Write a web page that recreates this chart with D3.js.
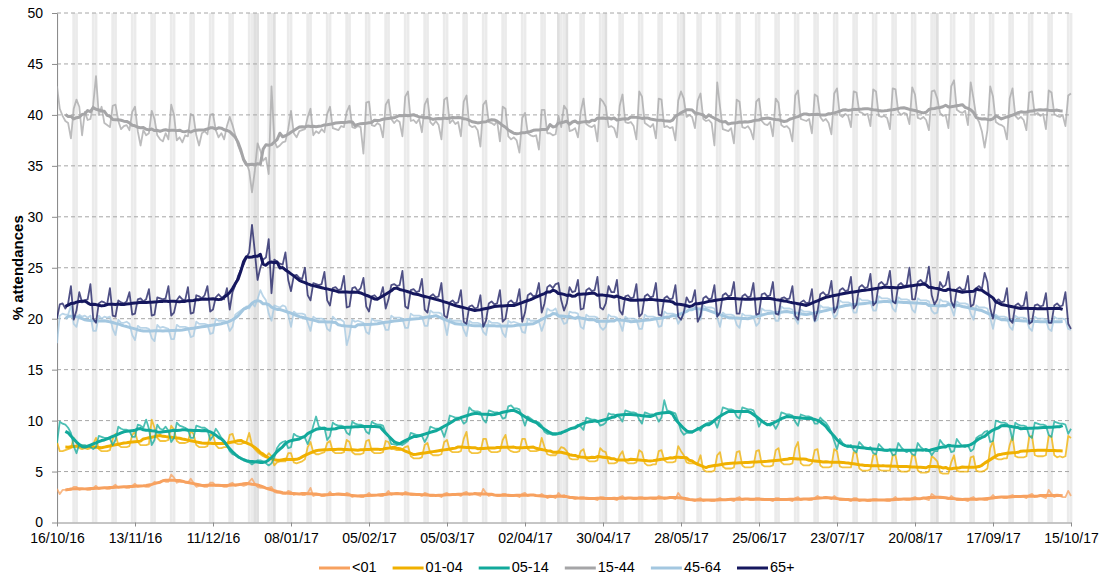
<!DOCTYPE html>
<html>
<head>
<meta charset="utf-8">
<script src="https://cdn.jsdelivr.net/npm/d3@7"></script>
<style>
  body { margin: 0; background: #fff; }
  svg { font-family: Arial, "Liberation Sans", sans-serif; }
</style>
</head>
<body>
<svg id="chart" width="1117" height="576"></svg>
<script>
// daily share of A&E attendances by age band, 16/10/16 - 15/10/17
// one row per week (Sun..Sat), last row is the final Sunday
const startDate = "2016-10-16";
const ageGroups = ["<01", "01-04", "05-14", "15-44", "45-64", "65+"];
const lineColours = ["#F7A15F", "#F0B000", "#12A99B", "#A5A5A7", "#A3C7E0", "#15175E"];
const tickDates = ["2016-10-16", "2016-11-13", "2016-12-11", "2017-01-08", "2017-02-05", "2017-03-05", "2017-04-02",
                   "2017-04-30", "2017-05-28", "2017-06-25", "2017-07-23", "2017-08-20", "2017-09-17", "2017-10-15"];
const bankHolidays = ["2016-12-26", "2016-12-27", "2017-01-02", "2017-04-14", "2017-04-17", "2017-05-01", "2017-05-29", "2017-08-28"];
const yTicks = [0, 5, 10, 15, 20, 25, 30, 35, 40, 45, 50];

const under01 = [
  [3.3,2.8,3.2,3.2,3.2,3.2,3.5],[3.5,3.2,3.3,3.3,3.2,3.2,3.4],[3.6,3.3,3.4,3.4,3.3,3.3,3.5],[3.7,3.4,3.5,3.5,3.4,3.4,3.6],
  [3.8,3.5,3.6,3.6,3.5,3.5,3.7],[4.0,3.9,4.0,4.1,4.0,4.0,4.7],[4.4,3.9,4.0,4.0,3.9,3.9,4.3],[3.9,3.5,3.6,3.6,3.5,3.5,3.9],
  [3.9,3.6,3.6,3.6,3.5,3.5,3.8],[3.9,3.6,3.7,3.7,3.6,3.7,4.0],[4.3,3.8,3.5,3.4,3.4,3.4,3.4],[3.5,3.0,2.9,2.9,2.8,2.8,3.1],
  [3.0,2.7,2.8,2.8,2.7,2.7,2.9],[3.4,2.6,2.7,2.7,2.6,2.6,2.7],[3.0,2.7,2.8,2.8,2.7,2.7,2.9],[2.8,2.5,2.6,2.6,2.5,2.5,2.7],
  [2.9,2.6,2.7,2.7,2.6,2.6,2.8],[3.1,2.7,2.8,2.9,2.8,2.7,3.0],[2.9,2.7,2.7,2.8,2.7,2.6,2.9],[2.8,2.6,2.6,2.7,2.6,2.5,2.8],
  [2.9,2.7,2.7,2.8,2.7,2.6,2.9],[3.0,2.7,2.8,2.8,2.7,2.6,3.3],[2.9,2.6,2.7,2.7,2.6,2.6,2.8],[2.8,2.6,2.6,2.7,2.6,2.5,2.8],
  [2.9,2.6,2.7,2.7,2.6,2.6,2.8],[2.6,2.4,2.5,2.5,2.4,2.9,2.6],[2.7,2.5,2.4,2.4,2.3,2.4,2.5],[2.5,2.3,2.3,2.4,2.3,2.2,2.5],
  [2.5,2.4,2.3,2.3,2.3,2.2,2.5],[2.6,2.3,2.4,2.4,2.3,2.3,2.5],[2.5,2.3,2.4,2.4,2.3,2.3,2.6],[2.5,2.3,2.4,2.4,2.4,2.3,2.9],
  [2.5,2.3,2.2,2.2,2.2,2.1,2.3],[2.4,2.1,2.2,2.2,2.1,2.1,2.3],[2.4,2.2,2.2,2.3,2.2,2.1,2.4],[2.5,2.2,2.3,2.3,2.2,2.2,2.4],
  [2.4,2.2,2.2,2.3,2.2,2.1,2.4],[2.4,2.2,2.2,2.3,2.2,2.1,2.4],[2.5,2.2,2.3,2.3,2.2,2.2,2.4],[2.6,2.4,2.4,2.5,2.4,2.3,2.6],
  [2.4,2.2,2.2,2.3,2.2,2.1,2.4],[2.4,2.1,2.2,2.2,2.1,2.1,2.3],[2.3,2.2,2.2,2.2,2.1,2.1,2.3],[2.5,2.2,2.3,2.3,2.2,2.2,2.4],
  [2.5,2.3,2.3,2.4,2.3,2.2,2.8],[2.6,2.5,2.4,2.4,2.4,2.3,2.6],[2.4,2.2,2.2,2.3,2.2,2.1,2.4],[2.5,2.2,2.3,2.3,2.2,2.2,2.4],
  [2.7,2.4,2.5,2.5,2.4,2.4,2.6],[2.7,2.5,2.5,2.6,2.5,2.4,2.7],[2.8,2.5,2.6,2.6,2.5,2.4,3.2],[2.8,2.5,2.6,2.6,2.5,2.5,3.1],
  [2.6]
].flat();

const age01to04 = [
  [7.9,7.0,7.0,7.1,7.2,7.3,8.3],[7.8,7.3,7.2,7.3,7.2,7.3,7.7],[8.3,7.2,7.0,7.0,7.0,7.1,8.2],[8.7,7.6,7.4,7.4,7.4,7.5,8.6],
  [8.9,7.9,7.6,7.6,7.6,7.7,10.1],[9.3,8.3,8.0,8.0,8.0,8.1,9.5],[9.1,8.0,7.8,7.8,7.8,7.9,9.0],[8.7,7.6,7.4,7.4,7.4,7.5,8.6],
  [8.6,7.6,7.3,7.3,7.4,7.4,8.6],[8.7,7.8,7.7,7.7,7.8,7.9,8.8],[7.6,7.2,6.9,6.7,6.5,6.4,6.8],[6.5,5.6,5.9,6.0,6.0,6.0,6.8],
  [6.8,5.9,5.8,5.9,6.0,6.2,7.4],[7.9,6.9,6.7,6.7,6.8,6.9,7.8],[8.0,7.0,6.8,6.8,6.8,6.9,8.1],[7.9,6.9,6.7,6.7,6.7,6.8,8.0],
  [8.1,7.0,6.8,6.8,6.8,6.9,8.0],[7.9,7.2,7.2,7.1,7.1,7.2,7.4],[7.5,6.5,6.3,6.3,6.3,6.4,7.6],[7.8,6.8,6.6,6.6,6.6,6.7,7.9],
  [8.1,7.1,6.9,6.9,6.9,7.0,8.2],[8.9,7.0,6.8,6.8,6.8,6.9,8.2],[8.2,7.1,6.9,6.9,6.9,7.0,8.1],[8.6,7.2,7.0,6.9,6.9,7.0,8.2],
  [8.2,7.2,7.0,7.0,7.0,7.1,8.3],[7.4,6.7,6.6,6.6,6.6,7.0,7.4],[7.3,7.0,6.3,6.2,6.2,6.2,7.0],[7.2,6.2,6.0,6.0,6.0,6.1,7.3],
  [7.0,6.9,5.8,5.8,5.8,5.9,6.6],[7.0,6.0,5.8,5.8,5.8,5.9,7.1],[6.9,5.8,5.6,5.6,5.7,5.7,7.0],[7.1,6.1,5.9,5.9,5.9,6.0,7.5],
  [7.0,6.6,5.9,5.8,5.8,5.8,5.8],[6.6,5.2,5.0,5.0,5.0,5.1,6.6],[6.9,5.5,5.3,5.3,5.3,5.4,6.9],[7.0,5.6,5.4,5.4,5.4,5.5,7.0],
  [7.1,5.7,5.5,5.5,5.5,5.6,7.1],[7.3,5.9,5.7,5.7,5.7,5.8,7.3],[7.9,5.8,5.6,5.6,5.6,5.8,7.1],[7.2,5.6,5.4,5.4,5.4,5.5,7.2],
  [7.0,5.5,5.4,5.4,5.4,5.4,6.9],[6.8,5.3,5.1,5.1,5.1,5.2,6.6],[6.7,5.2,5.1,5.1,5.1,5.1,6.6],[6.6,5.2,5.0,5.0,5.0,5.1,6.6],
  [6.5,5.1,4.9,4.9,4.9,5.0,6.5],[6.3,6.0,4.9,4.8,4.8,4.8,5.9],[6.6,5.1,5.0,5.0,5.0,5.0,6.4],[6.5,5.1,5.0,5.0,5.1,5.3,7.3],
  [8.0,6.3,6.2,6.2,6.3,6.3,7.6],[8.4,6.5,6.4,6.4,6.4,6.5,8.4],[8.5,6.6,6.5,6.5,6.5,6.6,8.5],[8.4,6.6,6.4,6.5,6.4,6.5,8.5],
  [8.3]
].flat();

const age05to14 = [
  [7.8,9.9,9.7,9.6,9.3,8.8,7.5],[6.8,7.7,7.6,7.6,7.5,7.4,7.2],[7.4,8.5,8.4,8.3,8.3,8.2,7.6],[8.1,9.4,9.2,9.1,9.1,9.0,8.4],
  [8.4,9.6,9.5,9.3,10.1,9.2,7.6],[8.1,9.6,9.2,9.1,9.4,9.0,7.9],[8.3,9.8,9.5,9.4,9.3,9.1,8.3],[8.3,9.5,9.4,9.3,9.3,9.1,8.1],
  [8.5,9.2,8.8,8.3,8.0,7.6,7.0],[6.7,6.6,6.4,6.3,6.2,6.0,5.9],[5.7,5.9,6.1,6.1,6.0,5.8,5.6],[5.8,6.4,7.3,7.7,7.9,8.0,7.3],
  [7.4,8.7,8.5,8.4,8.4,8.3,7.7],[8.4,9.5,10.4,9.4,9.3,9.3,8.1],[8.5,9.8,9.6,9.5,9.5,9.4,8.8],[8.6,9.9,9.7,9.6,9.6,9.5,8.9],
  [8.7,9.9,9.7,9.6,9.6,9.5,8.8],[8.5,7.7,7.7,7.6,7.7,7.6,7.8],[8.0,8.8,8.7,8.6,8.6,8.5,7.9],[8.4,9.4,9.3,9.2,9.2,9.1,8.4],
  [9.3,10.5,10.4,10.3,10.3,10.2,9.7],[9.9,11.3,11.0,10.9,10.9,10.8,10.1],[9.8,11.0,10.9,10.8,10.8,10.7,10.2],[10.3,11.4,11.5,11.2,11.2,11.1,10.3],
  [9.5,10.4,10.2,10.0,9.9,9.8,9.5],[8.9,8.7,8.7,8.6,8.6,8.7,8.7],[8.9,9.0,9.2,9.3,9.4,9.6,9.4],[9.1,10.3,10.2,10.1,10.1,10.0,9.5],
  [9.6,9.8,10.7,10.6,10.6,10.5,10.3],[9.9,11.0,10.9,10.8,10.8,10.7,10.1],[9.7,10.8,10.7,10.6,10.6,10.5,9.9],[10.3,12.0,11.0,10.9,10.8,10.7,9.9],
  [9.0,8.6,8.8,8.8,8.8,9.0,9.3],[9.0,9.5,9.7,9.8,9.9,10.0,9.3],[10.2,11.3,11.2,11.1,11.1,11.0,10.4],[10.2,11.3,11.2,11.1,11.1,11.0,10.4],
  [9.4,10.0,9.8,9.6,9.5,9.7,9.2],[9.7,10.8,10.7,10.6,10.6,10.5,9.9],[9.5,10.6,10.5,10.4,10.4,10.3,9.7],[9.7,10.3,10.0,9.8,9.4,8.8,8.0],
  [7.2,8.2,7.8,7.5,7.4,7.6,7.1],[6.9,7.9,7.6,7.3,7.2,7.4,6.8],[6.7,7.7,7.4,7.1,7.0,7.2,6.6],[6.7,7.8,7.4,7.1,6.9,7.1,6.7],
  [6.6,7.8,7.4,7.2,7.0,7.1,6.6],[7.0,7.0,8.1,7.7,7.5,7.6,6.9],[7.0,8.2,7.8,7.5,7.4,7.6,7.0],[7.2,8.3,8.5,8.6,8.9,9.0,7.9],
  [8.0,10.0,9.9,9.8,9.8,9.7,9.3],[8.1,9.8,9.6,9.5,9.5,9.4,8.5],[8.3,9.8,9.7,9.6,9.6,9.5,8.6],[8.4,9.9,9.8,9.7,9.7,9.6,8.7],
  [9.2]
].flat();

const age15to44 = [
  [42.8,40.6,39.9,39.4,39.2,37.7,40.6],[41.5,40.8,38.0,40.3,39.5,39.6,41.0],[43.8,40.0,40.8,39.2,39.0,38.8,40.9],[41.0,39.4,38.6,38.9,39.0,38.5,40.3],
  [40.8,38.4,37.0,38.5,38.0,38.2,40.4],[39.6,38.0,37.6,37.4,38.2,37.6,41.0],[40.0,37.5,37.8,37.3,38.0,37.9,40.1],[39.9,38.0,37.0,38.2,38.4,38.1,40.0],
  [40.1,38.5,37.8,38.2,37.6,38.9,39.8],[39.0,38.0,37.0,36.3,35.7,35.3,34.5],[32.4,34.5,37.2,36.5,35.5,35.8,34.2],[42.8,37.5,36.8,37.0,37.3,37.4,38.6],
  [40.4,38.2,37.8,38.4,38.5,38.6,39.8],[40.6,38.0,38.4,38.2,38.6,38.3,40.1],[40.8,38.7,38.6,38.5,38.9,38.8,40.3],[40.9,38.8,38.7,38.9,38.8,36.2,41.2],
  [41.3,39.0,38.9,39.2,39.0,37.8,41.0],[41.5,39.6,39.2,39.5,39.3,37.9,41.8],[42.3,39.4,39.5,39.2,39.6,38.3,41.0],[41.6,39.3,39.0,39.4,39.0,37.6,41.5],
  [41.7,39.2,39.5,39.1,39.3,37.9,41.3],[41.9,39.0,38.8,38.9,38.5,36.9,41.0],[41.4,39.3,39.2,39.0,39.4,37.4,40.8],[40.6,37.9,37.6,37.8,37.5,36.3,39.7],
  [40.2,38.2,38.0,37.9,38.0,36.6,40.5],[40.5,38.2,38.2,38.0,38.1,39.9,38.8],[40.9,40.5,38.4,38.5,38.7,37.8,40.3],[41.6,39.1,38.9,38.8,39.0,37.4,41.6],
  [41.3,40.8,38.8,38.9,38.7,37.8,40.9],[42.0,39.3,39.2,39.3,38.9,37.6,42.3],[41.8,39.2,39.0,38.8,39.1,37.7,41.6],[41.5,38.8,38.9,38.7,38.8,37.5,41.4],
  [42.3,41.6,39.8,40.0,39.8,38.7,41.4],[42.1,39.6,39.4,39.5,39.2,37.0,43.2],[40.8,38.6,38.5,38.4,38.7,37.2,41.5],[41.3,38.8,38.7,38.9,38.5,37.6,41.3],
  [41.6,39.4,39.1,39.0,39.3,37.9,41.6],[41.2,39.0,38.8,38.9,38.6,37.4,41.9],[42.4,39.6,39.5,39.4,39.6,38.2,42.0],[41.8,39.8,39.4,39.6,39.2,38.1,42.1],
  [42.6,40.0,39.8,40.1,39.9,38.8,42.3],[42.2,40.3,40.2,40.0,40.1,38.9,42.5],[42.3,39.9,39.8,39.9,39.7,38.6,42.6],[42.5,40.3,40.0,40.2,40.1,39.1,42.7],
  [42.0,39.7,39.6,39.8,39.5,38.5,42.3],[42.4,41.6,40.2,39.9,40.0,38.7,42.8],[43.4,40.5,40.3,40.2,40.4,39.0,43.2],[41.6,39.8,39.3,38.4,36.8,38.5,42.8],
  [41.8,39.3,39.1,39.0,38.8,37.6,41.6],[42.6,39.9,39.6,39.8,39.5,38.5,42.2],[42.3,40.0,40.2,39.9,40.1,38.6,42.4],[42.2,40.1,39.9,39.8,40.0,38.9,41.9],
  [42.1]
].flat();

const age45to64 = [
  [17.6,20.3,20.5,20.4,20.4,21.3,19.5],[19.2,20.4,20.2,20.3,20.1,20.3,18.8],[18.8,20.3,20.0,20.2,20.1,20.2,19.0],[18.4,19.9,19.6,19.6,19.7,19.5,18.4],
  [17.9,19.3,19.1,19.1,19.1,19.0,18.1],[17.8,19.4,19.1,19.2,19.1,19.0,18.0],[18.0,19.4,19.2,19.2,19.2,19.1,18.2],[18.3,19.7,19.5,19.5,19.5,19.4,18.5],
  [18.6,20.0,19.8,19.8,19.8,19.7,18.8],[19.2,20.4,20.6,20.8,21.0,21.2,21.0],[21.5,21.2,21.9,22.8,22.2,21.8,20.5],[19.8,21.3,21.2,21.1,21.3,21.2,20.4],
  [19.2,20.7,20.5,20.5,20.5,20.4,19.6],[18.8,20.2,20.0,20.0,20.0,19.9,19.0],[18.8,20.2,19.9,19.9,19.9,19.7,17.4],[18.4,19.9,19.7,19.8,19.7,19.6,18.7],
  [18.5,20.0,19.8,19.8,19.8,19.7,18.9],[18.9,20.3,20.1,20.1,20.1,20.0,19.1],[19.1,20.5,20.3,20.3,20.3,20.2,19.3],[19.3,20.8,20.6,20.6,20.6,20.5,19.7],
  [18.4,20.0,19.8,19.8,19.8,19.8,18.9],[18.3,19.8,19.6,19.6,19.6,19.5,18.7],[18.4,19.8,19.6,19.6,19.6,19.5,18.6],[18.2,19.8,19.6,19.7,19.6,19.5,18.7],
  [18.6,20.0,19.8,19.8,19.8,19.7,18.8],[19.6,21.0,20.8,20.8,21.0,20.2,20.1],[19.5,19.6,20.7,20.6,20.6,20.5,19.2],[19.0,20.4,20.2,20.2,20.2,20.1,19.2],
  [18.9,19.2,20.4,20.2,20.2,20.1,19.6],[18.8,20.2,20.0,20.0,20.0,19.9,19.0],[19.0,20.4,20.2,20.2,20.2,20.1,19.2],[19.3,20.7,20.5,20.5,20.5,20.4,19.5],
  [20.0,20.4,21.4,21.2,21.3,21.2,20.8],[19.9,21.3,21.1,21.1,21.1,21.0,20.1],[19.2,20.6,20.4,20.4,20.4,20.3,19.4],[19.1,20.5,20.3,20.3,20.3,20.2,19.3],
  [19.6,21.0,20.8,20.8,20.8,20.7,19.8],[19.8,21.2,21.0,21.0,21.0,20.9,20.0],[19.5,20.9,20.7,20.7,20.7,20.6,19.7],[19.9,21.3,21.1,21.1,21.1,21.0,20.1],
  [20.4,21.8,21.6,21.6,21.6,21.5,20.6],[20.6,22.0,21.8,21.8,21.8,21.7,20.8],[20.8,22.2,22.0,22.0,22.0,21.9,21.0],[20.7,22.1,21.9,21.9,21.9,21.8,20.9],
  [20.6,22.0,21.8,21.8,21.8,21.7,20.8],[20.5,20.6,21.9,21.7,21.7,21.6,21.1],[20.3,21.7,21.5,21.5,21.5,21.4,20.5],[19.9,21.3,21.1,21.1,21.1,21.0,20.1],
  [19.0,20.4,20.2,20.2,20.2,20.1,19.2],[18.9,20.3,20.1,20.1,20.1,20.0,19.1],[18.8,20.2,20.0,20.0,20.0,19.9,19.0],[18.8,20.2,20.0,20.0,20.0,19.9,19.0],
  [18.9]
].flat();

const age65plus = [
  [20.0,21.4,21.5,21.0,21.5,23.2,19.9],[20.8,22.6,21.6,21.8,21.9,23.4,20.0],[19.6,21.5,21.7,21.6,21.4,23.0,20.3],[20.2,21.8,21.6,21.5,21.7,22.6,20.4],
  [20.5,21.9,22.0,21.7,21.9,22.9,20.3],[20.4,22.1,22.0,21.9,22.0,23.2,20.3],[20.6,21.8,22.2,21.9,21.8,23.1,20.5],[20.6,22.3,22.2,22.0,22.3,23.2,20.7],
  [20.9,22.1,22.4,22.1,21.9,23.0,20.9],[22.6,23.3,24.2,24.8,25.3,26.0,26.5],[29.2,26.6,23.8,25.0,25.8,26.0,27.8],[22.5,25.8,25.6,25.4,25.3,26.5,23.8],
  [22.7,24.2,24.3,24.0,23.9,25.0,22.3],[21.8,23.5,23.4,23.3,23.4,24.6,21.8],[21.3,23.0,23.1,22.8,22.9,24.2,21.1],[21.2,23.0,23.1,22.7,23.0,24.0,21.2],
  [20.7,22.2,22.3,22.0,22.1,23.1,21.0],[21.9,23.3,23.4,23.2,23.3,24.7,21.2],[21.0,22.8,22.9,22.6,22.7,23.9,20.9],[20.6,22.2,22.4,22.1,22.2,23.5,20.3],
  [20.1,21.6,21.8,21.5,21.6,22.8,19.7],[19.5,21.2,21.3,21.0,21.1,22.3,19.2],[19.8,21.5,21.7,21.4,21.5,22.8,19.7],[20.0,21.6,21.8,21.5,21.6,22.9,19.7],
  [20.6,22.3,22.5,22.2,22.3,23.5,20.6],[21.5,23.1,23.3,23.0,23.4,23.5,21.8],[20.8,21.5,23.1,22.6,22.7,23.8,20.9],[21.0,22.8,23.0,22.7,22.8,24.1,21.1],
  [20.9,21.5,23.2,22.6,22.6,23.8,20.8],[20.4,22.2,22.3,22.0,22.1,23.4,20.2],[20.5,22.2,22.4,22.1,22.2,23.5,20.4],[20.3,22.0,22.2,21.9,22.0,23.3,20.2],
  [19.9,20.6,22.1,21.6,21.7,22.8,19.7],[20.3,22.0,22.2,21.9,22.0,23.3,20.2],[20.6,22.3,22.5,22.2,22.3,23.6,20.5],[20.5,22.2,22.4,22.1,22.2,23.5,20.4],
  [20.5,22.4,22.5,22.2,22.3,23.6,20.5],[20.4,22.0,22.1,21.9,22.0,23.2,20.3],[19.9,21.6,21.8,21.5,21.6,22.9,19.8],[20.7,22.4,22.6,22.3,22.4,23.7,20.6],
  [21.1,22.8,23.0,22.7,22.8,24.1,21.0],[21.4,23.1,23.3,23.0,23.1,24.4,21.3],[21.6,23.4,23.6,23.3,23.4,24.7,21.7],[21.5,23.3,23.5,23.2,23.3,25.0,21.9],
  [21.9,23.6,23.8,23.5,23.6,25.1,22.3],[21.4,21.9,23.6,23.1,23.3,24.6,21.7],[21.1,22.9,23.1,22.8,22.9,24.2,21.2],[21.4,23.0,23.2,22.9,24.5,23.6,21.0],
  [20.0,21.7,21.9,21.6,21.7,23.0,19.9],[19.6,21.3,21.5,21.2,21.3,22.6,19.5],[19.7,21.3,21.4,21.2,21.3,22.5,19.6],[19.6,21.3,21.5,21.2,21.3,22.6,19.5],
  [19.0]
].flat();

const seriesValues = [under01, age01to04, age05to14, age15to44, age45to64, age65plus];

// layout
const plotLeft = 57, plotRight = 1071, plotTop = 13, plotBottom = 522.5;

const parse = d3.utcParse("%Y-%m-%d");
const start = parse(startDate);
function dayDate(i) { return d3.utcDay.offset(start, i); }

const x = d3.scaleUtc()
    .domain([start, dayDate(364)])
    .range([plotLeft, plotRight]);
const y = d3.scaleLinear()
    .domain([0, 50])
    .range([plotBottom, plotTop]);

const svg = d3.select("#chart");

svg.append("defs").append("clipPath").attr("id", "plotClip")
    .append("rect").attr("x", plotLeft).attr("y", plotTop - 2)
    .attr("width", plotRight - plotLeft + 3).attr("height", plotBottom - plotTop + 2);

// weekend and bank holiday shading
const halfDay = 12 * 60 * 60 * 1000;
const allDays = d3.utcDay.range(start, d3.utcDay.offset(dayDate(364), 1));
const holidaySet = new Set(bankHolidays);
const fmtKey = d3.utcFormat("%Y-%m-%d");

function bandX(d) { return x(new Date(+d - halfDay)); }
function bandW(d) { return x(new Date(+d + halfDay)) - x(new Date(+d - halfDay)); }

const bands = svg.append("g").attr("clip-path", "url(#plotClip)");
bands.selectAll("rect.weekend")
    .data(allDays.filter(function(d) { return d.getUTCDay() === 0 || d.getUTCDay() === 6; }))
    .enter().append("rect")
    .attr("class", "weekend")
    .attr("x", bandX)
    .attr("width", bandW)
    .attr("y", plotTop)
    .attr("height", plotBottom - plotTop)
    .attr("fill", "#ebebeb");
bands.selectAll("rect.holiday")
    .data(allDays.filter(function(d) { return holidaySet.has(fmtKey(d)); }))
    .enter().append("rect")
    .attr("class", "holiday")
    .attr("x", bandX)
    .attr("width", bandW)
    .attr("y", plotTop)
    .attr("height", plotBottom - plotTop)
    .attr("fill", "#dfdfdf");

// dashed gridlines
svg.append("g").selectAll("line")
    .data(yTicks.filter(function(v) { return v > 0; }))
    .enter().append("line")
    .attr("x1", plotLeft).attr("x2", plotRight)
    .attr("y1", function(d) { return y(d); })
    .attr("y2", function(d) { return y(d); })
    .attr("stroke", "#a6a6a6")
    .attr("stroke-width", 1)
    .attr("stroke-dasharray", "4,3");

// y axis
const yAxis = svg.append("g")
    .attr("transform", "translate(" + plotLeft + ",0)")
    .call(d3.axisLeft(y).tickValues(yTicks).tickSize(5).tickSizeOuter(0).tickPadding(9));
yAxis.selectAll("path, line").attr("stroke", "#8c8c8c");
yAxis.selectAll("text").attr("fill", "#000").style("font-size", "14px");

// x axis
const xAxis = svg.append("g")
    .attr("transform", "translate(0," + plotBottom + ")")
    .call(d3.axisBottom(x).tickValues(tickDates.map(parse))
        .tickFormat(d3.utcFormat("%d/%m/%y")).tickSize(4).tickSizeOuter(0).tickPadding(7));
xAxis.selectAll("path, line").attr("stroke", "#8c8c8c");
xAxis.selectAll("text").attr("fill", "#000").style("font-size", "14px");

// y label
svg.append("text")
    .attr("transform", "translate(19," + ((plotTop + plotBottom) / 2) + ") rotate(-90)")
    .attr("text-anchor", "middle")
    .attr("dominant-baseline", "middle")
    .style("font-size", "15px")
    .style("font-weight", "bold")
    .text("% attendances");

// centred 7-day average of the daily values
function rolling(values) {
    const out = [];
    for (let i = 3; i < values.length - 3; i++) {
        out.push({ i: i, v: d3.mean(values.slice(i - 3, i + 4)) });
    }
    return out;
}

const line = d3.line()
    .x(function(d) { return x(dayDate(d.i)); })
    .y(function(d) { return y(d.v); });

const plot = svg.append("g").attr("clip-path", "url(#plotClip)");
for (let s = 0; s < seriesValues.length; s++) {
    const daily = seriesValues[s].map(function(v, i) { return { i: i, v: v }; });
    plot.append("path")
        .datum(daily)
        .attr("fill", "none")
        .attr("stroke", lineColours[s])
        .attr("stroke-opacity", 0.75)
        .attr("stroke-width", 1.8)
        .attr("stroke-linejoin", "round")
        .attr("d", line);
    plot.append("path")
        .datum(rolling(seriesValues[s]))
        .attr("fill", "none")
        .attr("stroke", lineColours[s])
        .attr("stroke-width", 3)
        .attr("stroke-linejoin", "round")
        .attr("d", line);
}

// legend
const legend = svg.append("g");
let lx = 319;
const ly = 568;
for (let s = 0; s < ageGroups.length; s++) {
    legend.append("line")
        .attr("x1", lx).attr("x2", lx + 31)
        .attr("y1", ly).attr("y2", ly)
        .attr("stroke", lineColours[s])
        .attr("stroke-width", 3);
    const t = legend.append("text")
        .attr("x", lx + 33)
        .attr("y", ly)
        .attr("dominant-baseline", "middle")
        .style("font-size", "14.5px")
        .text(ageGroups[s]);
    lx += 33 + t.node().getComputedTextLength() + 16;
}
</script>
</body>
</html>
